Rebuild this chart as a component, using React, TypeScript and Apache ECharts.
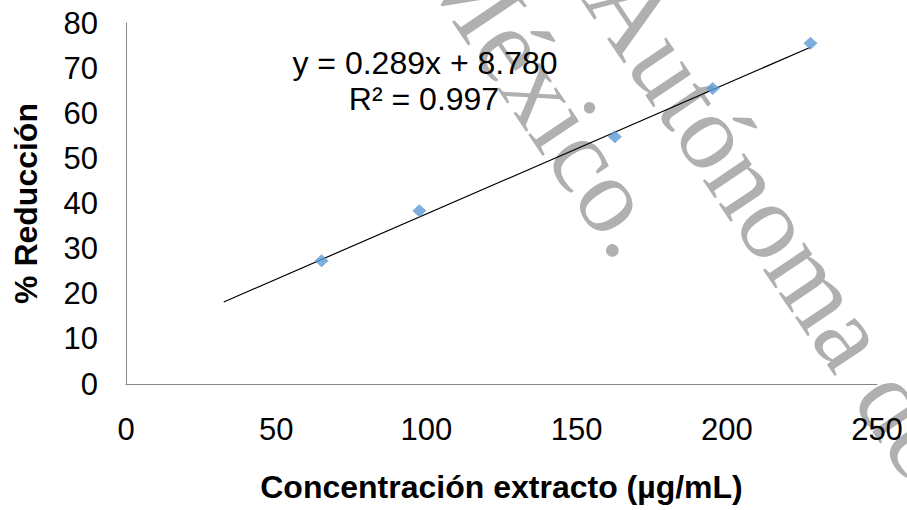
import React, { useEffect, useRef } from "react";
import * as echarts from "echarts";

// Measured extract concentrations (µg/mL) and the corresponding % reduction
const concentrations = [65.1, 97.65, 162.75, 195.3, 227.85];
const reductions = [27.3, 38.4, 54.8, 65.5, 75.5];

// Linear fit reported on the chart
const slope = 0.289;
const intercept = 8.78;
const rSquared = 0.997;
const trendStart = 32.55;
const trendEnd = 227.85;

const xTicks = { min: 0, max: 250, interval: 50 };
const yTicks = { min: 0, max: 80, interval: 10 };

const equationText = `y = ${slope.toFixed(3)}x + ${intercept.toFixed(3)}`;
const r2Text = `R² = ${rSquared.toFixed(3)}`;

const sans = '"Liberation Sans", Arial, sans-serif';
const serif = '"Liberation Serif", "Times New Roman", serif';
const stampAngle = (-56 * Math.PI) / 180;

export default function App() {
  const ref = useRef<HTMLDivElement>(null);

  useEffect(() => {
    if (!ref.current) return;
    const chart = echarts.init(ref.current, null, { renderer: "svg" });

    const points = concentrations.map((x, i) => [x, reductions[i]]);
    const trend = [trendStart, trendEnd].map((x) => [x, slope * x + intercept]);

    chart.setOption({
      animation: false,
      backgroundColor: "#ffffff",
      grid: { left: 126, right: 30, top: 23, bottom: 126, containLabel: false },
      xAxis: {
        type: "value",
        ...xTicks,
        axisLine: { show: true, lineStyle: { color: "#868686", width: 1 } },
        axisTick: { show: false },
        splitLine: { show: false },
        axisLabel: { fontSize: 31, color: "#000", margin: 30, fontFamily: sans },
        name: "Concentración extracto (µg/mL)",
        nameLocation: "middle",
        nameGap: 87,
        nameTextStyle: { fontSize: 32, fontWeight: "bold", color: "#000", fontFamily: sans },
      },
      yAxis: {
        type: "value",
        ...yTicks,
        axisLine: { show: true, lineStyle: { color: "#868686", width: 1 } },
        axisTick: { show: false },
        splitLine: { show: false },
        axisLabel: { fontSize: 31, color: "#000", margin: 28, fontFamily: sans },
        name: "% Reducción",
        nameLocation: "middle",
        nameGap: 84,
        nameTextStyle: { fontSize: 32, fontWeight: "bold", color: "#000", fontFamily: sans },
      },
      series: [
        {
          type: "line",
          data: trend,
          showSymbol: false,
          symbol: "none",
          lineStyle: { color: "#000", width: 1.2 },
          z: 5,
          silent: true,
        },
        {
          type: "scatter",
          data: points,
          symbol: "diamond",
          symbolSize: [14, 13],
          itemStyle: { color: "#5b9bd5" },
          z: 6,
        },
      ],
      graphic: [
        {
          type: "text",
          x: 611,
          y: -21,
          rotation: stampAngle,
          z: 0,
          silent: true,
          style: {
            text: "Autónoma de",
            fontSize: 108,
            fontFamily: serif,
            fill: "#b0b0b0",
            align: "left",
            verticalAlign: "middle",
          },
        },
        {
          type: "text",
          x: 646,
          y: 244,
          rotation: stampAngle,
          z: 0,
          silent: true,
          style: {
            text: "México.",
            fontSize: 108,
            fontFamily: serif,
            fill: "#b0b0b0",
            align: "right",
            verticalAlign: "middle",
          },
        },
        {
          type: "text",
          x: 425,
          y: 63,
          z: 20,
          style: {
            text: equationText,
            fontSize: 32,
            fontFamily: sans,
            fill: "#000",
            align: "center",
            verticalAlign: "middle",
          },
        },
        {
          type: "text",
          x: 424,
          y: 99,
          z: 20,
          style: {
            text: r2Text,
            fontSize: 32,
            fontFamily: sans,
            fill: "#000",
            align: "center",
            verticalAlign: "middle",
          },
        },
      ],
    });

    return () => chart.dispose();
  }, []);

  return (
    <div
      ref={ref}
      style={{ position: "absolute", left: 0, top: 0, width: 907, height: 510, background: "#fff" }}
    />
  );
}
